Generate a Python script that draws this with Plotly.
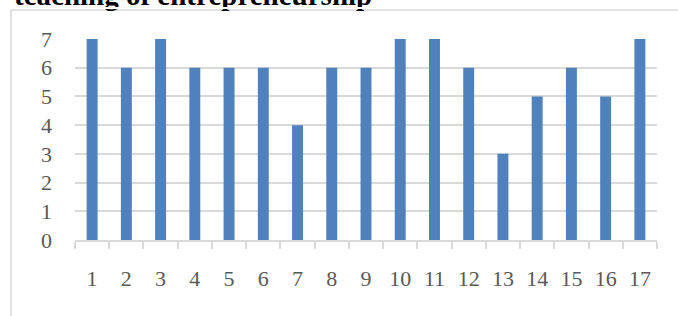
import plotly.graph_objects as go

categories = [str(i) for i in range(1, 18)]
values = [7, 6, 7, 6, 6, 6, 4, 6, 6, 7, 7, 6, 3, 5, 6, 5, 7]
y_ticks = [0, 1, 2, 3, 4, 5, 6, 7]
title_text = "teaching of entrepreneurship"

W, H = 678, 316
L, R, T, B = 75, 21, 39, 76
pw, ph = W - L - R, H - T - B

def px_x(x):
    return (x - L) / pw

def px_y(y):
    return (H - B - y) / ph

fig = go.Figure(go.Bar(
    x=categories, y=values,
    marker=dict(color="#4f81bd", line=dict(width=0)),
    width=0.32,
))

fig.update_layout(
    width=W, height=H,
    margin=dict(l=L, r=R, t=T, b=B, autoexpand=False),
    paper_bgcolor="white", plot_bgcolor="white",
    showlegend=False,
    font=dict(family="Liberation Serif", color="#595959", size=22),
    xaxis=dict(
        type="category", showgrid=False,
        showline=True, linecolor="#d9d9d9", linewidth=1.5,
        ticks="outside", ticklen=7, tickcolor="#d9d9d9", tickwidth=1.5,
        tickson="boundaries",
        tickfont=dict(size=22, color="#595959"),
        ticklabelstandoff=18, automargin=False,
    ),
    yaxis=dict(
        range=[0, 7], tickvals=y_ticks,
        showgrid=True, gridcolor="#d9d9d9", gridwidth=1.5,
        zeroline=False, showline=False, ticks="",
        tickfont=dict(size=22, color="#595959"),
        ticklabelstandoff=22, automargin=False,
    ),
    shapes=[dict(
        type="rect", xref="paper", yref="paper",
        x0=px_x(11), x1=px_x(W + 10), y0=px_y(H + 10), y1=px_y(10),
        line=dict(color="#d9d9d9", width=1.5), fillcolor="rgba(0,0,0,0)",
        layer="below",
    )],
    annotations=[
        dict(
            text="<b>" + title_text + "</b>", xref="paper", yref="paper",
            x=px_x(12), y=px_y(13), xanchor="left", yanchor="bottom",
            showarrow=False,
            font=dict(family="Liberation Serif", size=29, color="black"),
        ),
        dict(
            text=" ", xref="paper", yref="paper",
            x=px_x(5), y=px_y(6.5), xanchor="left", yanchor="top",
            showarrow=False, width=420, height=2, bgcolor="white",
            borderpad=0, borderwidth=0,
            font=dict(size=2),
        ),
    ],
)

fig.write_html("out.html", config={"displayModeBar": False},
               post_script="document.body.style.margin='0';")
